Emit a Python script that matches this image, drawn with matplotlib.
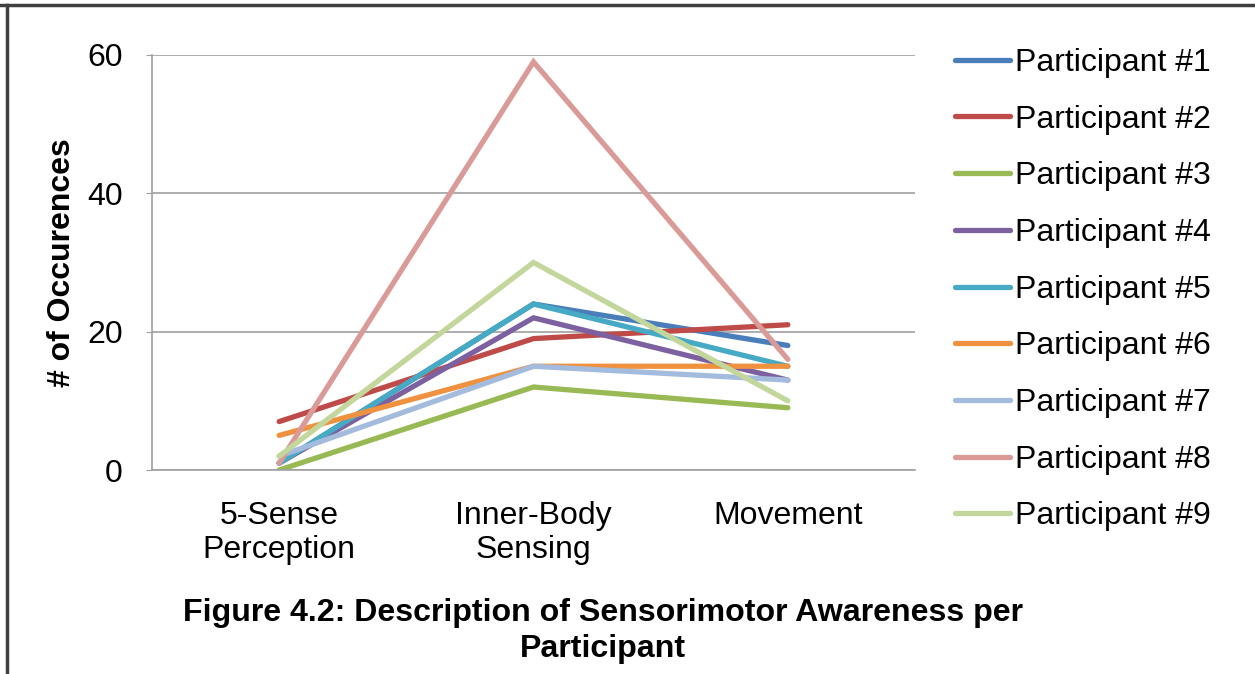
import matplotlib
matplotlib.use("Agg")
import matplotlib.pyplot as plt
from matplotlib.lines import Line2D

categories = ["5-Sense\nPerception", "Inner-Body\nSensing", "Movement"]
participants = ["Participant #1", "Participant #2", "Participant #3", "Participant #4",
                "Participant #5", "Participant #6", "Participant #7", "Participant #8",
                "Participant #9"]
p1 = [1, 24, 18]
p2 = [7, 19, 21]
p3 = [0, 12, 9]
p4 = [1, 22, 13]
p5 = [1, 24, 15]
p6 = [5, 15, 15]
p7 = [2, 15, 13]
p8 = [1, 59, 16]
p9 = [2, 30, 10]
series = [p1, p2, p3, p4, p5, p6, p7, p8, p9]
colors = ["#4A7EBB", "#BE4B48", "#98B954", "#7D60A0", "#46AAC5",
          "#F0913F", "#A3BBDC", "#DA9B98", "#C3D69B"]
yticks = [0, 20, 40, 60]

plt.rcParams['font.family'] = ['Liberation Sans', 'DejaVu Sans']

fig = plt.figure(figsize=(12.55, 6.74), dpi=100)
ax = fig.add_axes([152/1255, 1-470/674, (915-152)/1255, (470-55)/674])

x = list(range(len(categories)))
for vals, name, c in zip(series, participants, colors):
    ax.plot(x, vals, color=c, lw=3.8, label=name, solid_capstyle='round', solid_joinstyle='miter')

ax.set_xlim(-0.5, 2.5)
ax.set_ylim(0, 60)
ax.set_yticks(yticks)
ax.set_xticks(x)
ax.set_xticklabels(categories, fontsize=23, linespacing=1.2)
ax.tick_params(axis='y', labelsize=23, length=4, color='#A0A0A0', pad=17)
ax.tick_params(axis='x', length=0, pad=22)
ax.yaxis.grid(True, color='#A0A0A0', lw=1.2)
ax.set_axisbelow(True)
for s in ['top', 'right']:
    ax.spines[s].set_visible(False)
for s in ['left', 'bottom']:
    ax.spines[s].set_color('#A0A0A0')
    ax.spines[s].set_linewidth(1.2)
ax.set_ylabel("# of Occurences", fontsize=23, fontweight='bold')
ax.yaxis.set_label_coords(-(152-77)/763, 0.5)

leg = fig.legend(loc='upper left', bbox_to_anchor=(955/1255, 1-48/674), frameon=False,
                 fontsize=23, handlelength=1.72, handletextpad=0.16, labelspacing=0.835,
                 borderpad=0, borderaxespad=0)

fig.text(603/1255, 1-631/674, "Figure 4.2: Description of Sensorimotor Awareness per\nParticipant",
         ha='center', va='center', fontsize=23.1, fontweight='bold', linespacing=1.3)

# page frame lines
fig.add_artist(Line2D([0, 1], [1-5/674, 1-5/674], transform=fig.transFigure, color='#404040', lw=2.5))
fig.add_artist(Line2D([7/1255, 7/1255], [0, 1-5/674], transform=fig.transFigure, color='#404040', lw=2.5))

fig.savefig("out.png", dpi=100)
